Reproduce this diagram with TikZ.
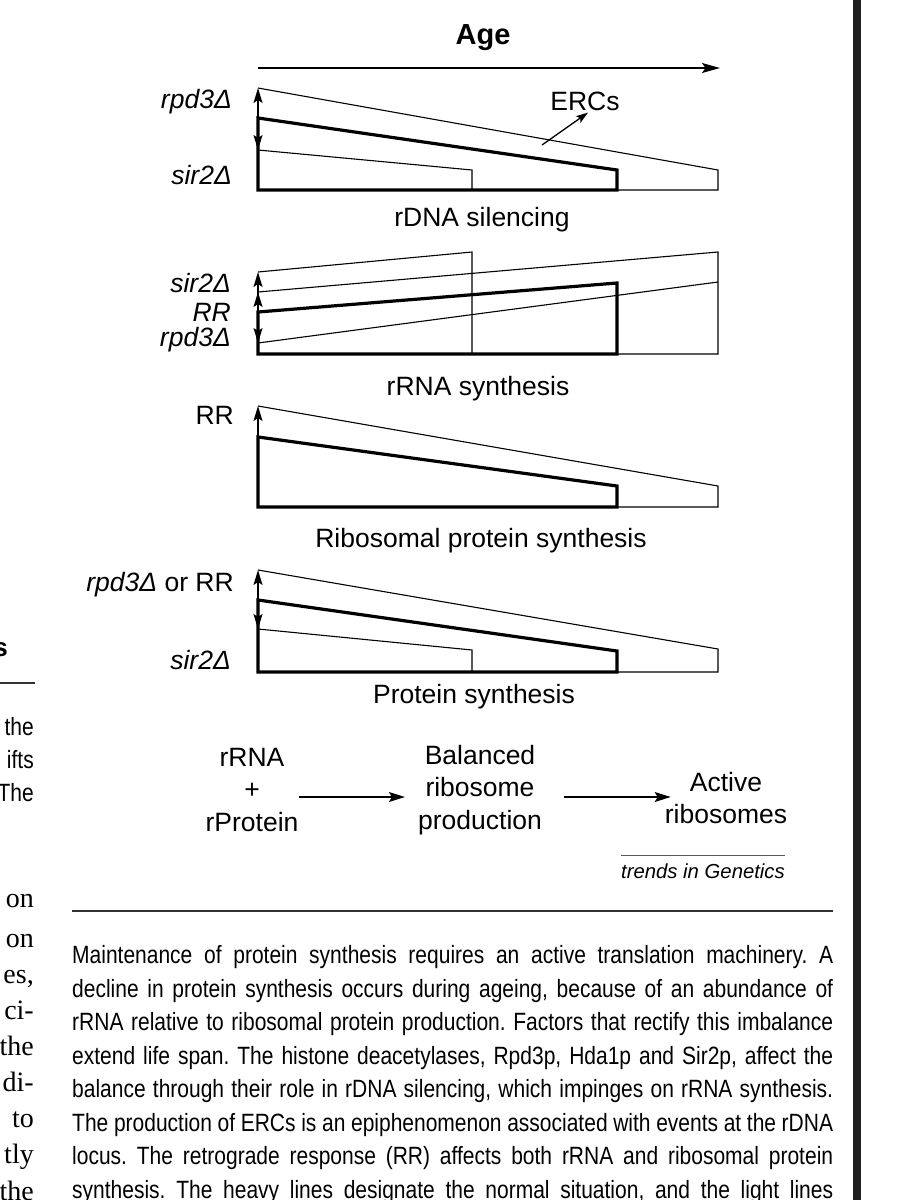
\documentclass[tikz,border=0pt]{standalone}
\usepackage{fontspec}
\setmainfont{Liberation Sans}
\newfontfamily\capfont[FakeStretch=0.84, WordSpace=0.75]{Liberation Sans}
\newfontfamily\seriffont{Liberation Serif}
\usetikzlibrary{arrows.meta}
\frenchspacing
\begin{document}
\begin{tikzpicture}[x=1pt,y=-1pt,
  thinl/.style={line width=1.1pt, line join=miter},
  thickl/.style={line width=3.2pt, line join=miter},
  axarrow/.style={line width=1.5pt, -{Stealth[length=15pt,width=9pt,inset=3pt]}},
  flowarrow/.style={line width=1.4pt, -{Stealth[length=16pt,width=10pt,inset=3pt]}},
  lbl/.style={font=\fontsize{26.5}{32.5}\selectfont, inner sep=0pt},
  sidelbl/.style={lbl, anchor=east},
  captxt/.style={font=\capfont\fontsize{25}{33.6}\selectfont\frenchspacing, inner sep=0pt, anchor=base west},
  captxtr/.style={font=\capfont\fontsize{25}{33.6}\selectfont, inner sep=0pt, anchor=base east},
  serifl/.style={font=\seriffont\fontsize{28}{34}\selectfont, inner sep=0pt, anchor=base east}]
\useasboundingbox (0,0) rectangle (913,1200);
\clip (0,0) rectangle (913,1200);
\fill[white] (0,0) rectangle (913,1200);

% ---------- Age ----------
\node[font=\fontsize{29}{34}\selectfont\bfseries, inner sep=0pt] (age) at (483,38) {Age};
\coordinate (ageA) at (258,68);
\coordinate (ageB) at (720,68);
\draw[line width=1.4pt, -{Stealth[length=18pt,width=10pt,inset=3.5pt]}] (ageA) -- (ageB);

% ---------- Panel 1: rDNA silencing ----------
\draw[thinl] (258,88) -- (718,170) -- (718,190) -- (617,190);
\draw[thinl] (258,150) -- (472,170) -- (472,190);
\draw[thickl] (258,190) -- (258,118) -- (617,170) -- (617,190) -- cycle;
\coordinate (p1o) at (258,118);
\coordinate (p1u) at (258,88);
\coordinate (p1d) at (258,150);
\draw[axarrow] (p1o) -- (p1u);
\draw[axarrow] (p1o) -- (p1d);
\node[sidelbl] (p1a) at (232,102) {\itshape rpd3Δ};
\node[sidelbl] (p1b) at (232,175) {\itshape sir2Δ};
\node[lbl] (ercs) at (585,101) {ERCs};
\coordinate (ercA) at (542,145);
\draw[line width=1.3pt, -{Stealth[length=12pt,width=8pt,inset=2.5pt]}] (ercA) -- ([xshift=3pt,yshift=-2pt]ercs.south);
\node[lbl] (t1) at (482,220) {rDNA silencing};

% ---------- Panel 2: rRNA synthesis ----------
\draw[thinl] (258,272) -- (472,252) -- (472,354);
\draw[thinl] (258,292) -- (718,252) -- (718,354) -- (617,354);
\draw[thinl] (258,343) -- (718,282);
\draw[thickl] (258,354) -- (258,312) -- (617,283) -- (617,354) -- cycle;
\coordinate (p2o) at (258,312);
\coordinate (p2u1) at (258,272);
\coordinate (p2u2) at (258,292);
\coordinate (p2d) at (258,343);
\draw[axarrow] (p2o) -- (p2u1);
\draw[axarrow] (p2o) -- (p2u2);
\draw[axarrow] (p2o) -- (p2d);
\node[sidelbl] (p2a) at (231,283) {\itshape sir2Δ};
\node[sidelbl] (p2b) at (231,312) {\itshape RR};
\node[sidelbl] (p2c) at (231,340) {\itshape rpd3Δ};
\node[lbl] (t2) at (478,389) {rRNA synthesis};

% ---------- Panel 3: Ribosomal protein synthesis ----------
\draw[thinl] (258,406) -- (718,486) -- (718,507) -- (617,507);
\draw[thickl] (258,507) -- (258,437) -- (617,486) -- (617,507) -- cycle;
\coordinate (p3o) at (258,437);
\coordinate (p3u) at (258,406);
\draw[axarrow] (p3o) -- (p3u);
\node[sidelbl] (p3a) at (234,415) {RR};
\node[lbl] (t3) at (481,541) {Ribosomal protein synthesis};

% ---------- Panel 4: Protein synthesis ----------
\draw[thinl] (258,570) -- (718,649) -- (718,672) -- (617,672);
\draw[thinl] (258,629) -- (472,650) -- (472,672);
\draw[thickl] (258,672) -- (258,600) -- (617,651) -- (617,672) -- cycle;
\coordinate (p4o) at (258,600);
\coordinate (p4u) at (258,570);
\coordinate (p4d) at (258,629);
\draw[axarrow] (p4o) -- (p4u);
\draw[axarrow] (p4o) -- (p4d);
\node[sidelbl] (p4a) at (234,585) {\itshape rpd3Δ\/\upshape\ or RR};
\node[sidelbl] (p4b) at (231,660) {\itshape sir2Δ};
\node[lbl] (t4) at (474,697) {Protein synthesis};

% ---------- Flow ----------
\node[lbl, align=center] (f1) at (252,790) {rRNA\\+\\rProtein};
\node[lbl, align=center] (f2) at (480,790) {Balanced\\ribosome\\production};
\node[lbl, align=center] (f3) at (726,798) {Active\\ribosomes};
\draw[flowarrow, shorten >=13pt] ([yshift=-7pt]f1.east) -- ([yshift=-7pt]f2.west);
\draw[flowarrow, shorten <=22pt] ([yshift=-7pt]f2.east) -- ([xshift=6pt,yshift=1pt]f3.west);

\node[font=\fontsize{20.3}{24}\selectfont\itshape, inner sep=0pt] (tig) at (703,871) {trends in Genetics};
\draw[line width=0.9pt, black!65] ([yshift=8pt]tig.north west) -- ([yshift=8pt]tig.north east);

% ---------- Caption ----------
\coordinate (ruleA) at (72,911);
\coordinate (ruleB) at (833,911);
\draw[line width=1.5pt, black!80] (ruleA) -- (ruleB);
\node[captxt] (c1) at (72,963) {\makebox[761pt][s]{Maintenance of protein synthesis requires an active translation machinery. A}};
\node[captxt] (c2) at (72,997) {\makebox[761pt][s]{decline in protein synthesis occurs during ageing, because of an abundance of}};
\node[captxt] (c3) at (72,1030) {\makebox[761pt][s]{rRNA relative to ribosomal protein production. Factors that rectify this imbalance}};
\node[captxt] (c4) at (72,1064) {\makebox[761pt][s]{extend life span. The histone deacetylases, Rpd3p, Hda1p and Sir2p, affect the}};
\node[captxt] (c5) at (72,1097) {\makebox[761pt][s]{balance through their role in rDNA silencing, which impinges on rRNA synthesis.}};
\node[captxt] (c6) at (72,1131) {\makebox[761pt][s]{The production of ERCs is an epiphenomenon associated with events at the rDNA}};
\node[captxt] (c7) at (72,1164) {\makebox[761pt][s]{locus. The retrograde response (RR) affects both rRNA and ribosomal protein}};
\node[captxt] (c8) at (72,1198) {\makebox[761pt][s]{synthesis. The heavy lines designate the normal situation, and the light lines}};

% ---------- Page fragments at the left ----------
\node[font=\fontsize{26}{30}\selectfont\bfseries, inner sep=0pt, anchor=base east] (fs) at (8,656) {s};
\coordinate (lrA) at (0,683);
\coordinate (lrB) at (35,683);
\draw[line width=1.2pt, black!80] (lrA) -- (lrB);
\node[captxtr] (m1) at (34,735) {the};
\node[captxtr] (m2) at (34,768) {ifts};
\node[captxtr] (m3) at (34,801) {The};
\node[serifl] (b1) at (34,907) {on};
\node[serifl] (b2) at (34,947) {on};
\node[serifl] (b3) at (34,983) {es,};
\node[serifl] (b4) at (34,1019) {ci-};
\node[serifl] (b5) at (34,1055) {the};
\node[serifl] (b6) at (34,1091) {di-};
\node[serifl] (b7) at (34,1127) {to};
\node[serifl] (b8) at (34,1163) {tly};
\node[serifl] (b9) at (34,1200) {the};

% ---------- Column bar at the right ----------
\fill[black!88] (853,0) rectangle (861,1200);
\end{tikzpicture}
\end{document}
